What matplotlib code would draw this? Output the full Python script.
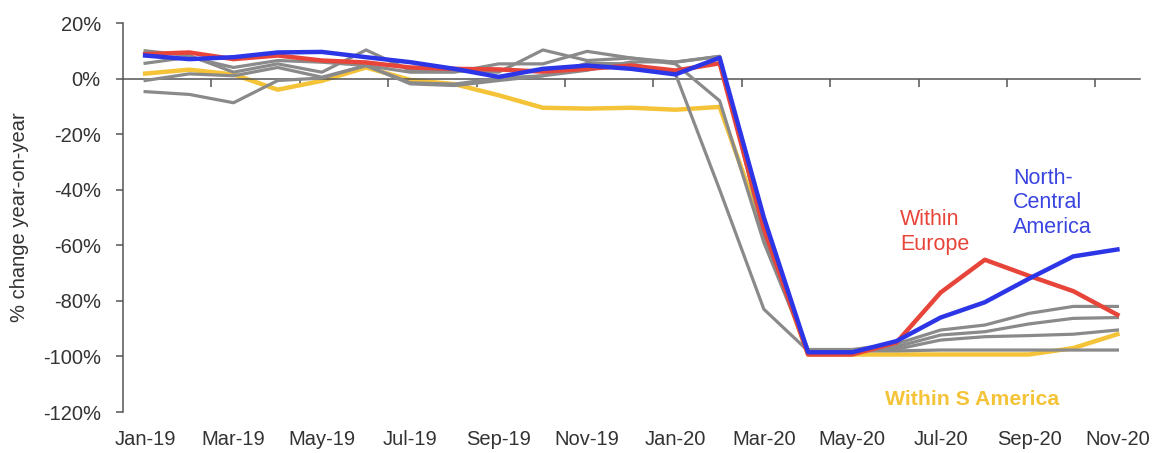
import matplotlib
matplotlib.use("Agg")
import matplotlib.pyplot as plt
import numpy as np

plt.rcParams['font.family'] = ['Liberation Sans', 'DejaVu Sans']

months = ["Jan-19", "Feb-19", "Mar-19", "Apr-19", "May-19", "Jun-19", "Jul-19", "Aug-19",
          "Sep-19", "Oct-19", "Nov-19", "Dec-19", "Jan-20", "Feb-20", "Mar-20", "Apr-20",
          "May-20", "Jun-20", "Jul-20", "Aug-20", "Sep-20", "Oct-20", "Nov-20"]

# % change year-on-year in air passenger traffic, by region
within_europe = [8.8, 9.4, 7.0, 8.3, 6.5, 5.8, 4.0, 3.5, 3.3, 2.5, 3.5, 4.7, 2.9, 5.5,
                 -54, -99.3, -99.3, -95, -77, -65.2, -71, -76.5, -85]
north_central_america = [8.3, 7.0, 7.7, 9.4, 9.6, 7.7, 5.9, 3.5, 0.6, 3.5, 4.7, 3.5, 1.5, 7.5,
                         -50, -98.5, -98.5, -94.5, -86, -80.5, -72, -64, -61.5]
within_s_america = [1.8, 3.2, 1.5, -4.0, -0.8, 4.0, -0.5, -2.0, -6.0, -10.5, -10.8, -10.5, -11.2, -10.2,
                    -55, -99.3, -99.3, -99.3, -99.3, -99.3, -99.3, -97, -92]
other_regions = [
    [10.0, 8.3, 2.3, 5.3, 2.3, 10.3, 2.9, 2.9, 2.3, 10.3, 6.5, 7.4, 5.9, 8.0,
     -55, -97.5, -97.5, -95.5, -90.5, -88.7, -84.5, -82, -82],
    [5.5, 7.7, 4.0, 6.5, 5.9, 4.7, 2.3, 2.3, 5.3, 5.3, 9.8, 7.4, 5.3, -8.0,
     -59, -98, -98, -96.5, -92.3, -91.1, -88.3, -86.3, -86],
    [-0.7, 1.7, 1.0, 4.0, 0.5, 4.7, -1.9, -2.5, -0.7, 1.0, 5.5, 5.3, 1.7, -40,
     -83, -98, -98, -97.4, -94.1, -92.9, -92.5, -92, -90.5],
    [-4.7, -5.7, -8.7, -0.7, 0.2, 4.7, -1.5, -2.0, 0.2, 1.0, 3.0, 6.0, 6.0, 8.0,
     -57, -98, -98, -98, -97.7, -97.7, -97.7, -97.7, -97.7],
]

RED = "#E8453A"
BLUE = "#2C36E6"
YELLOW = "#F5C338"
GREY = "#8A8A8A"
AXIS = "#555555"
TEXT = "#333333"

x = np.arange(len(months))

fig = plt.figure(figsize=(11.53, 4.53), dpi=100)
ax = fig.add_axes([0.1067, 0.0905, 0.8816, 0.8587])

ax.plot(x, within_s_america, color=YELLOW, lw=3.2, solid_joinstyle='round', zorder=2)
for series in other_regions:
    ax.plot(x, series, color=GREY, lw=2.3, solid_joinstyle='round', zorder=3)
ax.plot(x, within_europe, color=RED, lw=3.2, solid_joinstyle='round', zorder=4)
ax.plot(x, north_central_america, color=BLUE, lw=3.2, solid_joinstyle='round', zorder=5)

ax.set_xlim(-0.5, len(months) - 0.5)
ax.set_ylim(-120, 20)

# y axis
ax.set_yticks(np.arange(-120, 21, 20))
ax.set_yticklabels([f"{v}%" for v in range(-120, 21, 20)])
ax.tick_params(axis='y', direction='out', length=5, width=1.1, color=AXIS,
               labelsize=14.5, labelcolor=TEXT, pad=11)
ax.set_ylabel("% change year-on-year", fontsize=14.5, color=TEXT, labelpad=10)

# zero line acts as the category axis, with tick marks between every two months
for s in ('top', 'right'):
    ax.spines[s].set_visible(False)
ax.spines['left'].set_color(AXIS)
ax.spines['left'].set_linewidth(1.1)
ax.spines['bottom'].set_position(('data', 0))
ax.spines['bottom'].set_color(AXIS)
ax.spines['bottom'].set_linewidth(1.1)
ax.set_xticks(np.arange(1.5, len(months) - 1, 2))
ax.tick_params(axis='x', direction='out', length=6, width=1.1, color=AXIS, labelbottom=False)

# month labels along the bottom edge
sec = ax.secondary_xaxis(0)
sec.set_xticks(x[::2])
sec.set_xticklabels(months[::2])
sec.tick_params(length=0, labelsize=14.5, labelcolor=TEXT, pad=13)
sec.spines['bottom'].set_visible(False)

ax.text(17.08, -55.1, "Within\nEurope", color=RED, fontsize=15.5, ha='left', va='center',
        linespacing=1.25)
ax.text(19.64, -44.7, "North-\nCentral\nAmerica", color="#3A44E0", fontsize=15.5,
        ha='left', va='center', linespacing=1.22)
ax.text(16.74, -115.6, "Within S America", color=YELLOW, fontsize=15.3, fontweight='bold',
        ha='left', va='center')

fig.savefig("out.png", dpi=100)
